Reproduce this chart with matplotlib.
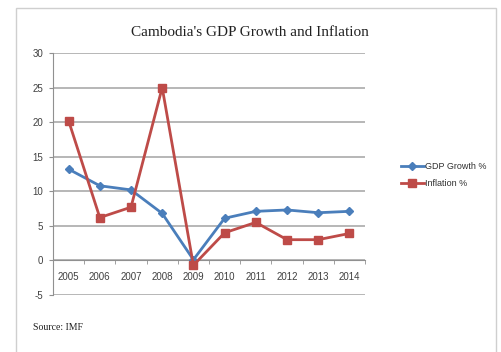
import matplotlib
matplotlib.use("Agg")
import matplotlib.pyplot as plt
from matplotlib.patches import Rectangle

years = ["2005", "2006", "2007", "2008", "2009", "2010", "2011", "2012", "2013", "2014"]
gdp_growth = [13.2, 10.8, 10.2, 6.8, 0.1, 6.1, 7.1, 7.3, 6.9, 7.1]
inflation = [20.2, 6.2, 7.7, 25.0, -0.7, 4.0, 5.5, 3.0, 3.0, 3.9]
y_ticks = [-5, 0, 5, 10, 15, 20, 25, 30]

blue = "#4a7ebb"
red = "#be4b48"
grid_col = "#aaaaaa"

fig = plt.figure(figsize=(5.02, 3.52), dpi=100)
fig.patch.set_facecolor("white")

# outer chart frame
fig.patches.append(Rectangle((16 / 502, -0.05), 480 / 502, 1.05 - 8 / 352,
                             transform=fig.transFigure, fill=False,
                             edgecolor="#cfcfcf", linewidth=1.0))

ax = fig.add_axes([53 / 502, 1 - 295 / 352, 312 / 502, 242 / 352])
x = list(range(len(years)))

# spine move first: it resets tick settings
ax.spines["bottom"].set_position(("data", 0))
ax.spines["bottom"].set_color("#909090")
ax.spines["left"].set_color("#909090")
ax.spines["top"].set_visible(False)
ax.spines["right"].set_visible(False)

ax.plot(x, gdp_growth, color=blue, linewidth=2, marker="D", markersize=4,
        markerfacecolor=blue, markeredgecolor=blue, label="GDP Growth %", zorder=3)
ax.plot(x, inflation, color=red, linewidth=2, marker="s", markersize=6,
        markerfacecolor=red, markeredgecolor=red, label="Inflation %", zorder=4)

ax.set_xlim(-0.5, len(years) - 0.5)
ax.set_ylim(-5, 30)
ax.set_yticks(y_ticks)
ax.set_yticklabels([str(v) for v in y_ticks])
ax.yaxis.grid(True, color=grid_col, linewidth=1.2)
ax.set_axisbelow(True)

ax.set_xticks(x)
ax.set_xticklabels(years)
ax.set_xticks([i - 0.5 for i in range(len(years) + 1)], minor=True)

for lab in ax.get_xticklabels() + ax.get_yticklabels():
    lab.set_fontfamily("Liberation Sans")
ax.tick_params(axis="both", labelsize=7, labelcolor="#404040")
ax.tick_params(axis="x", which="major", length=0, pad=8)
ax.tick_params(axis="x", which="minor", length=3, color="#909090", direction="out")
ax.tick_params(axis="y", length=3, color="#909090", pad=4)

leg = fig.legend(loc="center left", bbox_to_anchor=(393 / 502, 1 - 175 / 352),
                 frameon=False, prop={"family": "Liberation Sans", "size": 6.5},
                 handlelength=2.5, handletextpad=0.1, labelspacing=0.9)
for t in leg.get_texts():
    t.set_color("#303030")

fig.text(250 / 502, 1 - 32 / 352, "Cambodia's GDP Growth and Inflation",
         ha="center", va="center", fontfamily="Liberation Serif", fontsize=11,
         color="#202020")
fig.text(33 / 502, 1 - 328 / 352, "Source: IMF", ha="left", va="center",
         fontfamily="Liberation Serif", fontsize=7, color="#202020")

fig.savefig("out.png", dpi=100, facecolor="white")
